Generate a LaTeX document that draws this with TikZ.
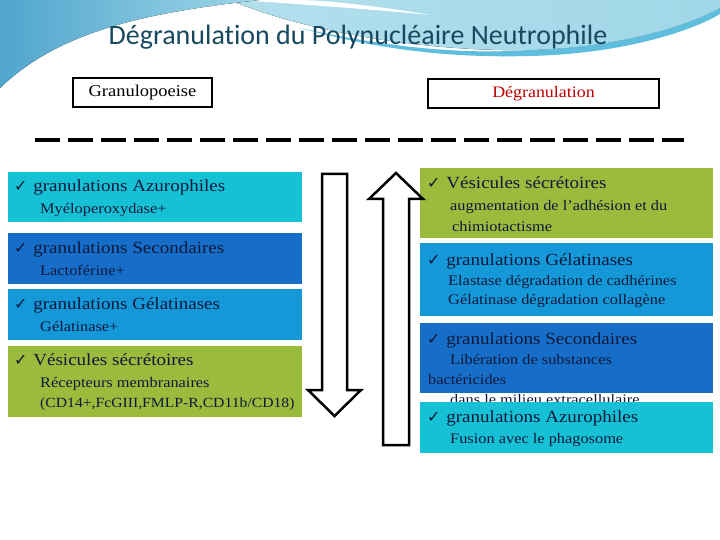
\documentclass[tikz,border=0pt]{standalone}
\usepackage{fontspec}
\setmainfont{Liberation Serif}[FakeStretch=1.12]
\newfontfamily\titlefont{Carlito}[Ligatures=NoCommon]
\newfontfamily\checkfont{DejaVu Sans}
\definecolor{titlecol}{RGB}{23,74,96}
\definecolor{cyanbox}{RGB}{22,193,214}
\definecolor{bluebox}{RGB}{22,110,200}
\definecolor{midbox}{RGB}{20,152,216}
\definecolor{greenbox}{RGB}{155,187,60}
\definecolor{navytext}{RGB}{15,25,60}
\definecolor{redtext}{RGB}{192,0,0}
\definecolor{wavedark}{RGB}{80,165,205}
\definecolor{wavelight}{RGB}{160,215,232}
\definecolor{waveband}{RGB}{95,190,222}
\newcommand{\chk}{{\checkfont\fontsize{16}{16}\selectfont ✓}\hspace{1pt}}
\tikzset{
  colbox/.style={anchor=north west, inner sep=0, outer sep=0},
  headtxt/.style={anchor=base west, inner sep=0, text=navytext, font=\fontsize{17}{17}\selectfont},
  subtxt/.style={anchor=base west, inner sep=0, text=navytext, font=\fontsize{14.6}{14.6}\selectfont},
  titlebox/.style={draw=black, line width=2pt, fill=white, inner sep=0},
  bigarrow/.style={draw=black, line width=2.5pt, fill=white, line join=miter}
}
\begin{document}
\begin{tikzpicture}[x=1pt,y=-1pt]
\useasboundingbox (0,0) rectangle (720,540);
\fill[white] (0,0) rectangle (720,540);
% background waves
\fill[left color=wavelight!80!white, right color=wavelight] (230,0) .. controls (300,30) and (420,52) .. (530,50) .. controls (620,48) and (690,25) .. (720,8) -- (720,0) -- cycle;
\fill[waveband] (300,28) .. controls (400,50) and (470,54) .. (530,50) .. controls (620,48) and (690,25) .. (720,8) -- (720,14) .. controls (690,32) and (620,54) .. (530,56) .. controls (450,58) and (380,50) .. (300,28) -- cycle;
\fill[white] (235,0) .. controls (300,4) and (380,10) .. (430,15) .. controls (380,6) and (320,0) .. (300,0) -- cycle;
\fill[left color=wavedark, right color=wavelight] (0,0) -- (260,0) .. controls (150,12) and (60,30) .. (0,88) -- cycle;
% title
\node[text=titlecol, font=\titlefont\fontsize{28}{28}\selectfont, inner sep=0] (title) at (358,37) {Dégranulation du Polynucléaire Neutrophile};
% top boxes
\node[titlebox, minimum width=139pt, minimum height=29pt, font=\fontsize{16.5}{16.5}\selectfont] (granulo) at (142.5,92.5) {Granulopoeise};
\node[titlebox, minimum width=231pt, minimum height=29pt, text=redtext, font=\fontsize{16}{16}\selectfont] (degran) at (543.5,93.5) {Dégranulation};
% dashed separator
\draw[line width=3.5pt, dash pattern=on 25pt off 8pt] (35,140) -- (684,140);
% left column
\node[colbox, fill=cyanbox, minimum width=294pt, minimum height=50pt] (lb1) at (8,172) {};
\node[colbox, fill=bluebox, minimum width=294pt, minimum height=51pt] (lb2) at (8,233) {};
\node[colbox, fill=midbox, minimum width=294pt, minimum height=51pt] (lb3) at (8,289) {};
\node[colbox, fill=greenbox, minimum width=294pt, minimum height=71pt] (lb4) at (8,346) {};
\node[headtxt] (l1h) at (14,192) {\chk\ granulations Azurophiles};
\node[subtxt] (l1s) at (40,214) {Myéloperoxydase+};
\node[headtxt] (l2h) at (14,253) {\chk\ granulations Secondaires};
\node[subtxt] (l2s) at (40,275) {Lactoférine+};
\node[headtxt] (l3h) at (14,309) {\chk\ granulations Gélatinases};
\node[subtxt] (l3s) at (40,331) {Gélatinase+};
\node[headtxt] (l4h) at (14,365) {\chk\ Vésicules sécrétoires};
\node[subtxt] (l4s1) at (40,387) {Récepteurs membranaires};
\node[subtxt, font=\fontsize{14}{14}\selectfont] (l4s2) at (40,407) {(CD14+,FcGIII,FMLP-R,CD11b/CD18)};
% right column
\node[colbox, fill=greenbox, minimum width=293pt, minimum height=70pt] (rb1) at (420,168) {};
\node[colbox, fill=midbox, minimum width=293pt, minimum height=73pt] (rb2) at (420,243) {};
\node[colbox, fill=bluebox, minimum width=293pt, minimum height=70pt] (rb3) at (420,323) {};
\node[headtxt] (r1h) at (427,189) {\chk\ Vésicules sécrétoires};
\node[subtxt] (r1s1) at (450,211) {augmentation de l’adhésion et du};
\node[subtxt] (r1s2) at (452,231) {chimiotactisme};
\node[headtxt] (r2h) at (427,265) {\chk\ granulations Gélatinases};
\node[subtxt] (r2s1) at (448,285) {Elastase dégradation de cadhérines};
\node[subtxt] (r2s2) at (448,304) {Gélatinase dégradation collagène};
\node[headtxt] (r3h) at (427,344) {\chk\ granulations Secondaires};
\node[subtxt] (r3s1) at (450,364) {Libération de substances};
\node[subtxt] (r3s2) at (428,384) {bactéricides};
\node[subtxt] (r3s3) at (450,404) {dans le milieu extracellulaire};
\node[colbox, fill=cyanbox, minimum width=293pt, minimum height=51pt] (rb4) at (420,402) {};
\node[headtxt] (r4h) at (427,422) {\chk\ granulations Azurophiles};
\node[subtxt] (r4s) at (450,443) {Fusion avec le phagosome};
% big arrows
\draw[bigarrow] (322,174) -- (347,174) -- (347,390) -- (361,390) -- (334.5,416) -- (308,390) -- (322,390) -- cycle;
\draw[bigarrow] (383,445) -- (409,445) -- (409,199) -- (423,199) -- (396,173) -- (369,199) -- (383,199) -- cycle;
\end{tikzpicture}
\end{document}
